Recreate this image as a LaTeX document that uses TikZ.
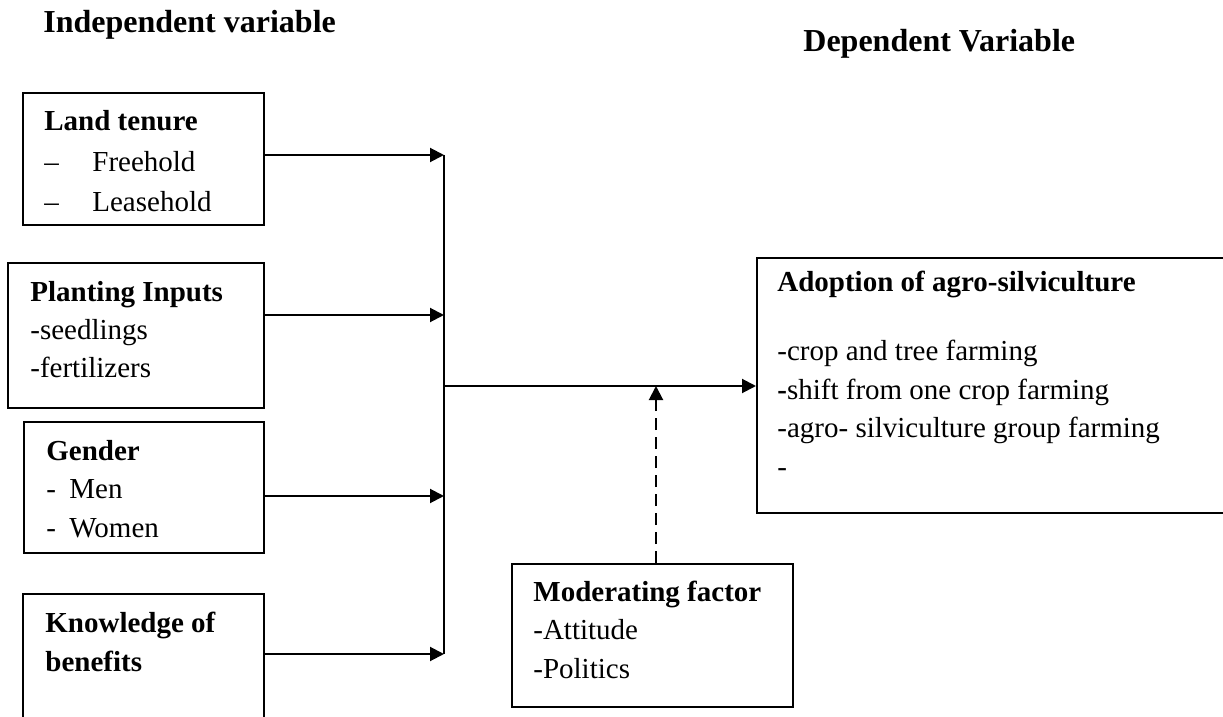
\documentclass[tikz,border=0pt]{standalone}
\usepackage{fontspec}
\setmainfont{Liberation Serif}
\usetikzlibrary{arrows.meta,fit}
\begin{document}
\begin{tikzpicture}[x=0.5pt,y=-0.5pt,
    box/.style={draw,line width=1pt,inner sep=0pt},
    txt/.style={anchor=base west,inner sep=0pt,align=left,font=\fontsize{14.5}{19.25}\selectfont},
    head/.style={anchor=base west,inner sep=0pt,font=\fontsize{16}{19}\selectfont\bfseries},
    arr/.style={line width=1pt,-{Triangle[length=7pt,width=7pt]}},
    modarr/.style={line width=1pt,dash pattern=on 6pt off 3.5pt,-{Triangle[length=7pt,width=7pt]}}]

\useasboundingbox (0,0) rectangle (1223,717);
\clip (0,0) rectangle (1223,717);

% headings
\node[head] (indep) at (43,33) {Independent variable};
\node[head] (dep) at (803,52) {Dependent Variable};

% boxes
\node[box,fit={(23,93) (264,225)}] (land) {};
\node[box,fit={(8,263) (264,408)}] (plant) {};
\node[box,fit={(24,422) (264,553)}] (gender) {};
\node[box,fit={(23,594) (264,740)}] (know) {};
\node[box,fit={(757,258) (1240,513)}] (adopt) {};
\node[box,fit={(512,564) (793,707)}] (mod) {};

% box texts (placed at the baseline of the last line)
\node[txt,font=\fontsize{14.5}{20.25}\selectfont] (landtxt) at (44,212)
    {\textbf{Land tenure}\\\makebox[24pt][l]{\textendash}Freehold\\\makebox[24pt][l]{\textendash}Leasehold};
\node[txt] (planttxt) at (30,378) {\textbf{Planting Inputs}\\-seedlings\\-fertilizers};
\node[txt] (gendertxt) at (46,537) {\textbf{Gender}\\\makebox[11.5pt][l]{-}Men\\\makebox[11.5pt][l]{-}Women};
\node[txt] (knowtxt) at (45,671) {\textbf{Knowledge of}\\\textbf{benefits}};
\node[txt] (adopttxt) at (777,476)
    {\textbf{Adoption of agro-silviculture}\\[15.25pt]-crop and tree farming\\\textbf{-}shift from one crop farming\\-agro- silviculture group farming\\-};
\node[txt] (modtxt) at (533,678) {\textbf{Moderating factor}\\-Attitude\\-Politics};

% joints
\coordinate (j1) at (444,155);
\coordinate (j2) at (444,315);
\coordinate (j3) at (444,496);
\coordinate (j4) at (444,654);
\coordinate (hub) at (444,386);
\coordinate (modtip) at (656,386);

\draw[line width=0.7pt] (j1) -- (j4);
\draw[arr] (land.east |- j1) -- (j1);
\draw[arr] (plant.east |- j2) -- (j2);
\draw[arr] (gender.east |- j3) -- (j3);
\draw[arr] (know.east |- j4) -- (j4);
\draw[arr] (hub) -- (hub -| adopt.west);
\draw[modarr] (modtip |- mod.north) -- (modtip);

\end{tikzpicture}
\end{document}
